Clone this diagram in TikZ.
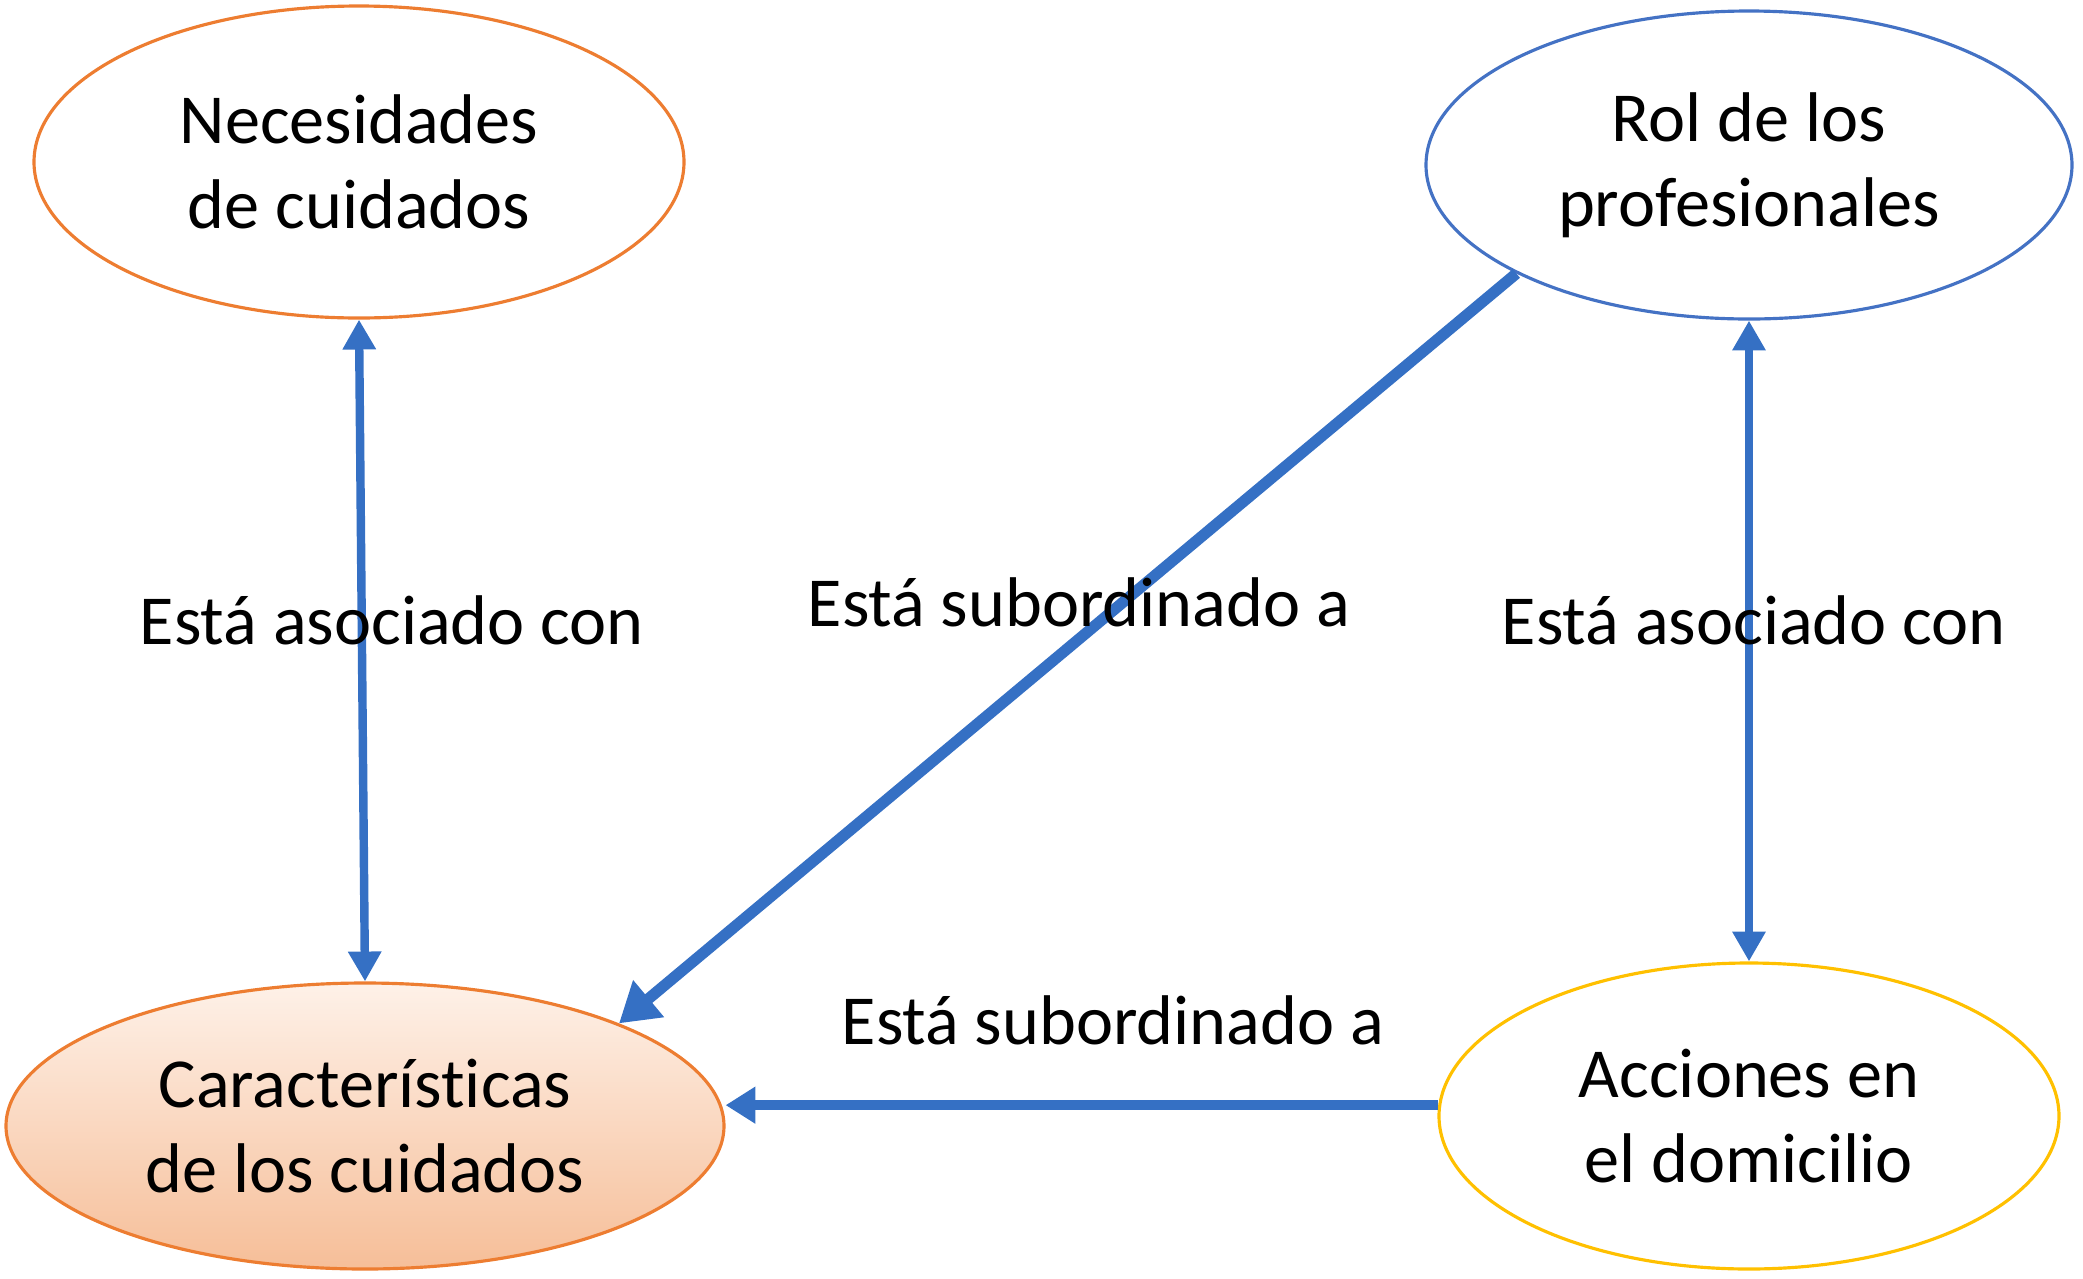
\documentclass[tikz,border=0pt]{standalone}
\usepackage{fontspec}
\setmainfont[Ligatures=NoCommon]{Carlito}
\usetikzlibrary{shapes.geometric,arrows.meta}
\definecolor{orng}{HTML}{ED7D31}
\definecolor{bluebd}{HTML}{4472C4}
\definecolor{yell}{HTML}{FFC000}
\definecolor{arrblue}{HTML}{3570C4}
\definecolor{peachtop}{HTML}{FEF1E8}
\definecolor{peachbot}{HTML}{F6BE98}
\tikzset{
  ell/.style={ellipse, draw, line width=0.9pt, inner sep=0pt, align=center,
    font=\fontsize{20}{24.2}\selectfont},
  lbl/.style={font=\fontsize{20}{24}\selectfont, inner sep=0pt},
  conn/.style={draw=arrblue, line width=2.8pt,
    arrows={-Triangle[width=10pt,length=8.5pt]}},
  dconn/.style={draw=arrblue, line width=2.4pt,
    arrows={Triangle[width=9pt,length=8.5pt]-Triangle[width=9pt,length=8.5pt]}},
  bigconn/.style={draw=arrblue, line width=3.2pt,
    arrows={-Triangle[width=13pt,length=11pt]}}
}
\begin{document}
\begin{tikzpicture}
\useasboundingbox (0,0) rectangle (20.83,-12.78);
\node[ell, draw=orng, minimum width=6.5cm, minimum height=3.12cm] (nec) at (3.59,-1.62) {Necesidades\\de cuidados};
\node[ell, draw=bluebd, minimum width=6.46cm, minimum height=3.08cm] (rol) at (17.49,-1.65) {Rol de los\\profesionales};
\node[ell, draw=orng, top color=peachtop, bottom color=peachbot, minimum width=7.18cm, minimum height=2.86cm] (car) at (3.65,-11.26) {Características\\de los cuidados};
\node[ell, draw=yell, minimum width=6.2cm, minimum height=3.06cm] (acc) at (17.49,-11.16) {Acciones en\\el domicilio};

\draw[dconn] (nec.south) -- (car.north);
\draw[dconn] (rol.south) -- (acc.north);
\draw[bigconn] (rol.205) -- (car.22);
\draw[conn] (acc.178) -- (car.east |- acc.178);

\node[lbl] (l1) at (3.92,-6.20) {Está asociado con};
\node[lbl] (l2) at (10.79,-6.02) {Está subordinado a};
\node[lbl] (l3) at (17.54,-6.20) {Está asociado con};
\node[lbl] (l4) at (11.13,-10.20) {Está subordinado a};
\end{tikzpicture}
\end{document}
